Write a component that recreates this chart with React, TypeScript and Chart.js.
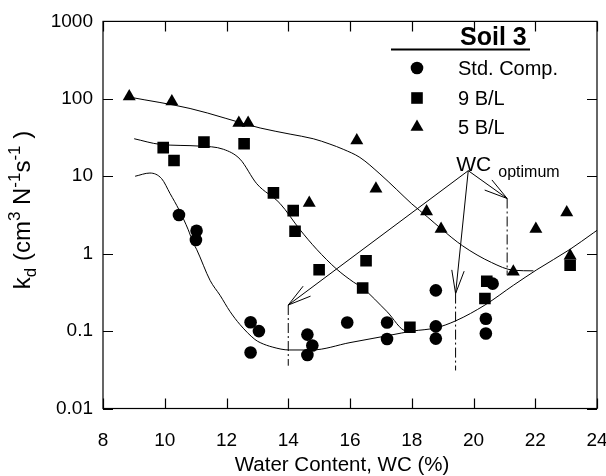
import React, { useEffect, useRef } from 'react';
import { Chart, registerables } from 'chart.js';

Chart.register(...registerables);

// ---- data ----
const seriesNames = ['Std. Comp.', '9 B/L', '5 B/L'];

const stdWC = [10.46, 11.03, 11.01, 12.78, 13.05, 12.78, 14.62, 14.78, 14.62, 15.91, 17.2, 17.2, 18.78, 18.78, 18.78, 20.62, 20.4, 20.4];
const stdKd = [3.16, 1.98, 1.5, 0.13, 0.1, 0.053, 0.09, 0.065, 0.049, 0.129, 0.129, 0.079, 0.336, 0.115, 0.08, 0.41, 0.144, 0.093];

const bl9WC = [9.95, 10.3, 11.27, 12.57, 13.52, 14.16, 14.22, 15.0, 16.52, 16.41, 17.94, 20.43, 20.37, 23.13];
const bl9Kd = [23.4, 16, 27.6, 26.3, 6.1, 3.6, 1.95, 0.62, 0.81, 0.36, 0.112, 0.44, 0.264, 0.71];

const bl5WC = [8.85, 10.23, 12.4, 12.7, 14.68, 16.22, 16.84, 18.48, 18.95, 21.29, 22.02, 23.02, 23.13];
const bl5Kd = [107, 92, 48.7, 48.7, 4.5, 29, 6.9, 3.5, 2.08, 0.586, 2.08, 3.4, 0.94];

// fitted curves
const stdFitWC = [9.04, 9.52, 9.9, 10.17, 10.46, 10.76, 10.92, 11.03, 11.47, 11.79, 12.11, 12.44, 12.92, 13.09, 13.5, 14.03, 14.76, 16.0, 17.3, 18.02, 18.78, 19.43, 20.37, 21.29, 22.05, 23.13, 23.88, 24.0];
const stdFitKd = [10, 11, 9.3, 6, 3.7, 2.04, 1.38, 1.14, 0.45, 0.29, 0.18, 0.121, 0.078, 0.071, 0.062, 0.057, 0.057, 0.071, 0.0885, 0.1, 0.11, 0.136, 0.217, 0.39, 0.62, 1.14, 1.85, 2.0];

const bl9FitWC = [9.01, 9.85, 11.14, 11.9, 12.44, 12.98, 13.73, 14.38, 14.92, 15.57, 16.11, 16.41, 17.19, 17.84, 18.0];
const bl9FitKd = [30.5, 25.8, 24.5, 22.3, 16.6, 8, 4.46, 2.04, 1.14, 0.63, 0.43, 0.36, 0.18, 0.1, 0.103];

const bl5FitWC = [8.87, 10.82, 13.09, 14.06, 14.81, 15.35, 15.78, 16.32, 16.97, 17.5, 18.0, 18.5, 18.95, 19.65, 20.58, 21.3, 21.94];
const bl5FitKd = [105, 75, 42, 35, 30.5, 26, 22.3, 17.5, 10.7, 6.8, 4.4, 3.0, 2.1, 1.26, 0.77, 0.61, 0.6];

const xTicks = [8, 10, 12, 14, 16, 18, 20, 22, 24];
const yTicks = [0.01, 0.1, 1, 10, 100, 1000];
const yTickLabels = ['0.01', '0.1', '1', '10', '100', '1000'];

// WC optimum annotation (data coordinates)
const wcLabelAt = { wc: 19.83, kd: 11.8 };
const wcOptWC = [14.0, 19.42, 21.09];
const wcOptTipKd = [0.217, 0.305, 5.16];
const wcOptLineEndKd = [0.0357, 0.031, 0.527];

const FONT = '"Liberation Sans", Arial, Helvetica, sans-serif';

const pts = (xs: number[], ys: number[]) => xs.map((x, i) => ({ x, y: ys[i] }));

function drawMarker(ctx: CanvasRenderingContext2D, style: string, x: number, y: number) {
  ctx.beginPath();
  if (style === 'circle') {
    ctx.arc(x, y, 6.3, 0, Math.PI * 2);
  } else if (style === 'rect') {
    ctx.rect(x - 5.8, y - 5.8, 11.6, 11.6);
  } else {
    const r = 7.5;
    ctx.moveTo(x, y - r);
    ctx.lineTo(x + r * Math.sin(2 * Math.PI / 3), y + r / 2);
    ctx.lineTo(x - r * Math.sin(2 * Math.PI / 3), y + r / 2);
    ctx.closePath();
  }
  ctx.fill();
}

function drawArrow(ctx: CanvasRenderingContext2D, x0: number, y0: number, x1: number, y1: number) {
  ctx.beginPath();
  ctx.moveTo(x0, y0);
  ctx.lineTo(x1, y1);
  ctx.stroke();
  const ang = Math.atan2(y1 - y0, x1 - x0);
  const L = 24;
  const a = (15 * Math.PI) / 180;
  ctx.beginPath();
  ctx.moveTo(x1 - L * Math.cos(ang - a), y1 - L * Math.sin(ang - a));
  ctx.lineTo(x1, y1);
  ctx.lineTo(x1 - L * Math.cos(ang + a), y1 - L * Math.sin(ang + a));
  ctx.stroke();
}

const decorPlugin = {
  id: 'decor',
  afterDatasetsDraw(chart: any) {
    const ctx: CanvasRenderingContext2D = chart.ctx;
    const { left, right, top, bottom } = chart.chartArea;
    const xs = chart.scales.x;
    const ys = chart.scales.y;
    ctx.save();
    ctx.strokeStyle = '#000';
    ctx.fillStyle = '#000';
    ctx.lineWidth = 1.2;
    // frame
    ctx.strokeRect(left, top, right - left, bottom - top);
    // inward ticks
    const tl = 10;
    ctx.beginPath();
    xTicks.forEach((v) => {
      const px = Math.round(xs.getPixelForValue(v)) + 0.5;
      ctx.moveTo(px, bottom);
      ctx.lineTo(px, bottom - tl);
      ctx.moveTo(px, top);
      ctx.lineTo(px, top + tl);
    });
    yTicks.forEach((v) => {
      const py = Math.round(ys.getPixelForValue(v)) + 0.5;
      ctx.moveTo(left, py);
      ctx.lineTo(left + tl, py);
      ctx.moveTo(right, py);
      ctx.lineTo(right - tl, py);
    });
    ctx.stroke();

    // x title
    ctx.font = `20.5px ${FONT}`;
    ctx.textAlign = 'center';
    ctx.textBaseline = 'alphabetic';
    ctx.fillText('Water Content, WC (%)', 342, 471);

    // y title (rotated, with sub/superscripts)
    const pieces: [string, string][] = [
      ['k', 'n'], ['d', 'sub'], [' (cm', 'n'], ['3', 'sup'], [' N', 'n'], ['-1', 'sup'], ['s', 'n'], ['-1', 'sup'], [' )', 'n'],
    ];
    const mainF = `24px ${FONT}`;
    const scriptF = `17px ${FONT}`;
    let total = 0;
    pieces.forEach(([t, k]) => {
      ctx.font = k === 'n' ? mainF : scriptF;
      total += ctx.measureText(t).width;
    });
    ctx.save();
    ctx.translate(22, 210);
    ctx.rotate(-Math.PI / 2);
    ctx.textAlign = 'left';
    let cx = -total / 2;
    pieces.forEach(([t, k]) => {
      ctx.font = k === 'n' ? mainF : scriptF;
      const dy = k === 'sub' ? 6 : k === 'sup' ? -10 : 0;
      ctx.fillText(t, cx, 8 + dy);
      cx += ctx.measureText(t).width;
    });
    ctx.restore();

    // legend
    ctx.textAlign = 'left';
    ctx.font = `bold 25px ${FONT}`;
    ctx.fillText('Soil 3', 460, 45);
    ctx.lineWidth = 2;
    ctx.beginPath();
    ctx.moveTo(391, 49.5);
    ctx.lineTo(530, 49.5);
    ctx.stroke();
    const styles = ['circle', 'rect', 'triangle'];
    const rowY = [68, 98, 127];
    ctx.font = `20px ${FONT}`;
    seriesNames.forEach((name, i) => {
      drawMarker(ctx, styles[i], 417, rowY[i]);
      ctx.fillText(name, 458, rowY[i] + 7);
    });

    // WC optimum annotation
    const ox = xs.getPixelForValue(wcLabelAt.wc);
    const oy = ys.getPixelForValue(wcLabelAt.kd);
    ctx.font = `21px ${FONT}`;
    ctx.fillText('WC', ox - 12, oy);
    ctx.font = `16px ${FONT}`;
    ctx.fillText('optimum', ox + 30, oy + 6);
    ctx.lineWidth = 1;
    wcOptWC.forEach((w, i) => {
      const tx = xs.getPixelForValue(w);
      const ty = ys.getPixelForValue(wcOptTipKd[i]);
      drawArrow(ctx, ox, oy, tx, ty);
      ctx.save();
      ctx.setLineDash([10, 3, 2, 3]);
      ctx.beginPath();
      ctx.moveTo(tx, ty);
      ctx.lineTo(tx, ys.getPixelForValue(wcOptLineEndKd[i]));
      ctx.stroke();
      ctx.restore();
    });
    ctx.restore();
  },
};

export default function App() {
  const ref = useRef<HTMLCanvasElement | null>(null);
  useEffect(() => {
    if (!ref.current) return;
    const curve = (xs: number[], ys: number[]) => ({
      type: 'line' as const,
      data: pts(xs, ys),
      showLine: true,
      borderColor: '#000',
      borderWidth: 1,
      pointRadius: 0,
      cubicInterpolationMode: 'monotone' as const,
      fill: false,
    });
    const marks = (label: string, xs: number[], ys: number[], style: string, r: number) => ({
      type: 'scatter' as const,
      label,
      data: pts(xs, ys),
      pointStyle: style,
      pointRadius: r,
      backgroundColor: '#000',
      borderColor: '#000',
      borderWidth: 0,
      showLine: false,
    });
    const chart = new Chart(ref.current, {
      type: 'scatter',
      data: {
        datasets: [
          curve(stdFitWC, stdFitKd),
          curve(bl9FitWC, bl9FitKd),
          curve(bl5FitWC, bl5FitKd),
          marks(seriesNames[0], stdWC, stdKd, 'circle', 6.3),
          marks(seriesNames[1], bl9WC, bl9Kd, 'rect', 8.2),
          marks(seriesNames[2], bl5WC, bl5Kd, 'triangle', 7.5),
        ] as any,
      },
      options: {
        responsive: false,
        animation: false,
        devicePixelRatio: 1,
        layout: { padding: { left: 0, right: 9, top: 15, bottom: 0 } },
        plugins: { legend: { display: false }, tooltip: { enabled: false } },
        scales: {
          x: {
            type: 'linear',
            min: 8,
            max: 24,
            grid: { display: false, drawTicks: false },
            border: { display: false },
            afterBuildTicks: (s: any) => { s.ticks = xTicks.map((v) => ({ value: v })); },
            afterFit: (s: any) => { s.height = 67.5; s.paddingLeft = 0; s.paddingRight = 0; },
            ticks: { font: { family: FONT, size: 19 }, color: '#000', padding: 21, maxRotation: 0, autoSkip: false },
          },
          y: {
            type: 'logarithmic',
            min: 0.01,
            max: 1000,
            grid: { display: false, drawTicks: false },
            border: { display: false },
            afterBuildTicks: (s: any) => { s.ticks = yTicks.map((v) => ({ value: v })); },
            afterFit: (s: any) => { s.width = 103; },
            ticks: {
              font: { family: FONT, size: 19 },
              color: '#000',
              padding: 10,
              autoSkip: false,
              callback: (v: any) => { const i = yTicks.indexOf(Number(v)); return i >= 0 ? yTickLabels[i] : ''; },
            },
          },
        },
      },
      plugins: [decorPlugin],
    } as any);
    return () => chart.destroy();
  }, []);
  return (
    <div style={{ position: 'absolute', left: 0, top: 0, width: 606, height: 476, background: '#fff' }}>
      <canvas ref={ref} width={606} height={476} style={{ display: 'block', width: 606, height: 476 }} />
    </div>
  );
}
